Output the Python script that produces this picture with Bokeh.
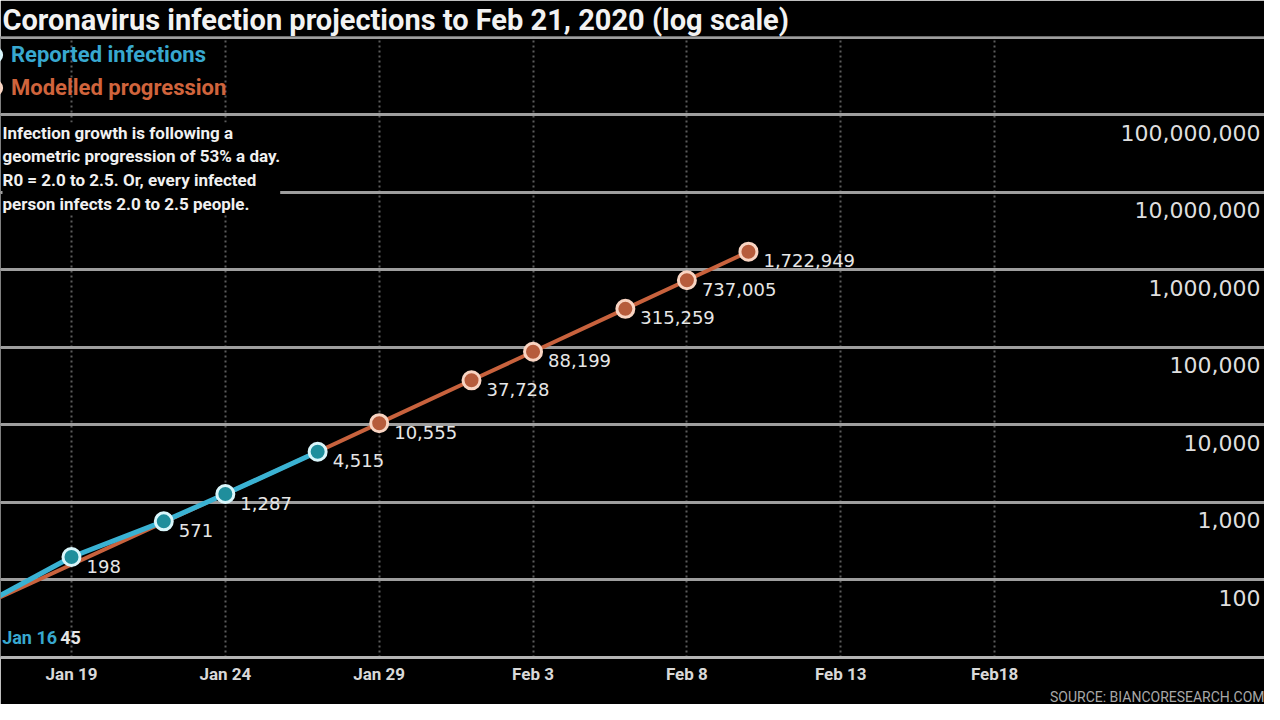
import pandas as pd
from bokeh.plotting import figure
from bokeh.models import Range1d, FixedTicker, Grid, Label, Legend, LegendItem, Title
from bokeh.core.properties import value
from bokeh.embed import file_html
from bokeh.resources import INLINE

# ---------------- data ----------------
title_text = "Coronavirus infection projections to Feb 21, 2020 (log scale)"
note_text = ("Infection growth is following a\n"
             "geometric progression of 53% a day.\n"
             "R0 = 2.0 to 2.5. Or, every infected\n"
             "person infects 2.0 to 2.5 people.")
source_text = "SOURCE: BIANCORESEARCH.COM"
legend_reported = "Reported infections"
legend_modelled = "Modelled progression"

reported_dates = ["2020-01-16", "2020-01-19", "2020-01-22", "2020-01-24", "2020-01-27"]
reported_values = [45, 198, 571, 1287, 4515]

modelled_dates = ["2020-01-16", "2020-01-27", "2020-01-29", "2020-02-01",
                  "2020-02-03", "2020-02-06", "2020-02-08", "2020-02-10"]
modelled_values = [45, 4515, 10555, 37728, 88199, 315259, 737005, 1722949]
modelled_marked_from = 2  # first modelled point drawn with a marker

x_tick_dates = ["2020-01-19", "2020-01-24", "2020-01-29", "2020-02-03",
                "2020-02-08", "2020-02-13", "2020-02-18"]
x_tick_labels = ["Jan 19", "Jan 24", "Jan 29", "Feb 3", "Feb 8", "Feb 13", "Feb18"]

y_grid_values = [10, 100, 1000, 10000, 100000, 1000000, 10000000, 100000000, 1000000000]
y_label_values = [100, 1000, 10000, 100000, 1000000, 10000000, 100000000]

x_view_start = "2020-01-16 16:38"
x_view_end = "2020-02-26 18:30"

# ---------------- helpers ----------------
ORIGIN = pd.Timestamp("2020-01-01")


def day(s):
    return (pd.Timestamp(s) - ORIGIN).total_seconds() / 86400.0 + 1.0


rep_x = [day(d) for d in reported_dates]
mod_x = [day(d) for d in modelled_dates]
tick_x = [int(round(day(d))) for d in x_tick_dates]

BLUE_LINE = "#3ab2d3"
BLUE_FILL = "#1f8e9c"
BLUE_EDGE = "#d9f6fb"
BLUE_TEXT = "#38a8cf"
ORANGE_LINE = "#c8623d"
ORANGE_FILL = "#b65c3c"
ORANGE_EDGE = "#f9d4c2"
ORANGE_TEXT = "#d0643c"
SANS_NAME = "Roboto"
SANS = value(SANS_NAME)
NUM = value("DejaVu Sans")

p = figure(width=1264, height=704,
           x_range=Range1d(day(x_view_start), day(x_view_end)),
           y_range=Range1d(10, 1.03e9),
           y_axis_type="log", y_axis_location=None,
           output_backend="svg", toolbar_location=None,
           background_fill_color="black", border_fill_color="black",
           outline_line_color=None,
           min_border_left=0, min_border_right=0,
           min_border_top=0, min_border_bottom=47)

# title (layout panel above the frame)
p.title.text = title_text
p.title.text_font = SANS_NAME
p.title.text_font_size = "29px"
p.title.text_font_style = "bold"
p.title.text_color = "#f2f2f2"
p.title.align = "left"
p.title.offset = 2
p.title.standoff = 0

# x axis
p.xaxis.ticker = FixedTicker(ticks=tick_x)
p.xaxis.major_label_overrides = dict(zip(tick_x, x_tick_labels))
p.xaxis.axis_line_color = "#b4b4b4"
p.xaxis.axis_line_width = 3
p.xaxis.major_tick_line_color = None
p.xaxis.minor_tick_line_color = None
p.xaxis.major_tick_out = 0
p.xaxis.major_tick_in = 0
p.xaxis.minor_tick_out = 0
p.xaxis.minor_tick_in = 0
p.xaxis.major_label_text_color = "#d9d9d9"
p.xaxis.major_label_text_font = SANS_NAME
p.xaxis.major_label_text_font_size = "17px"
p.xaxis.major_label_text_font_style = "bold"
p.xaxis.major_label_standoff = 6

# source line under the axis
p.add_layout(Title(text=source_text, align="right", text_color="#a8a8a8",
                   text_font=SANS_NAME, text_font_size="14px", text_font_style="normal",
                   standoff=0), "below")

# grids
p.xgrid.ticker = FixedTicker(ticks=tick_x)
p.xgrid.grid_line_color = "#5c5c5c"
p.xgrid.grid_line_width = 2
p.xgrid.grid_line_dash = "2 3"
ygrid = Grid(dimension=1, ticker=FixedTicker(ticks=y_grid_values),
             grid_line_color="#9e9e9e", grid_line_width=3)
p.add_layout(ygrid)

# y labels (below each line, right aligned)
p.text(x=[p.x_range.end] * len(y_label_values), y=y_label_values,
       text=[f"{v:,}" for v in y_label_values],
       text_align="right", text_baseline="middle", x_offset=-4, y_offset=18,
       text_color="#dedede", text_font=NUM, text_font_size="22px")

# lines
p.line(mod_x, modelled_values, line_color=ORANGE_LINE, line_width=4)
p.line(rep_x, reported_values, line_color=BLUE_LINE, line_width=5)

# markers
r_mod = p.scatter(mod_x[modelled_marked_from:], modelled_values[modelled_marked_from:],
                  size=17, fill_color=ORANGE_FILL, line_color=ORANGE_EDGE, line_width=3)
r_rep = p.scatter(rep_x, reported_values, size=17, fill_color=BLUE_FILL,
                  line_color=BLUE_EDGE, line_width=3)

# point labels
p.text(x=rep_x[1:], y=reported_values[1:], text=[f"{v:,}" for v in reported_values[1:]],
       x_offset=15, y_offset=9, text_baseline="middle",
       text_color="#e6e6e6", text_font=NUM, text_font_size="18px")
p.text(x=mod_x[modelled_marked_from:], y=modelled_values[modelled_marked_from:],
       text=[f"{v:,}" for v in modelled_values[modelled_marked_from:]],
       x_offset=15, y_offset=9, text_baseline="middle",
       text_color="#e6e6e6", text_font=NUM, text_font_size="18px")

first_label = pd.Timestamp(reported_dates[0]).strftime("%b %-d")
p.text(x=[rep_x[0]], y=[reported_values[0]], text=[first_label],
       x_offset=23, y_offset=31, text_baseline="middle",
       text_color=BLUE_TEXT, text_font=SANS, text_font_size="18px", text_font_style="bold")
p.text(x=[rep_x[0]], y=[reported_values[0]], text=[f"{reported_values[0]:,}"],
       x_offset=81, y_offset=31, text_baseline="middle",
       text_color="#e6e6e6", text_font=SANS, text_font_size="18px", text_font_style="bold")

# legends (two, to colour their labels differently)
for label, rend, color, yloc in [(legend_reported, r_rep, BLUE_TEXT, 586),
                                 (legend_modelled, r_mod, ORANGE_TEXT, 553)]:
    leg = Legend(items=[LegendItem(label=label, renderers=[rend])],
                 location=(-22, yloc), glyph_width=33, glyph_height=33,
                 label_height=33, label_standoff=0, padding=0, margin=0, spacing=0,
                 background_fill_alpha=0, border_line_alpha=0,
                 label_text_color=color, label_text_font=SANS_NAME,
                 label_text_font_size="22px", label_text_font_style="bold")
    p.add_layout(leg)

# annotation note
p.add_layout(Label(x=2, y=535, x_units="screen", y_units="screen", text=note_text,
                   text_baseline="top", text_align="left",
                   text_color="#f0f0f0", text_font=SANS_NAME, text_font_size="17px",
                   text_font_style="bold", text_line_height=1.19,
                   background_fill_color="black", background_fill_alpha=1.0))

html = file_html(p, INLINE)
html = html.replace("<body>", '<body style="background:#000000">', 1)
open("out.html", "w").write(html)
